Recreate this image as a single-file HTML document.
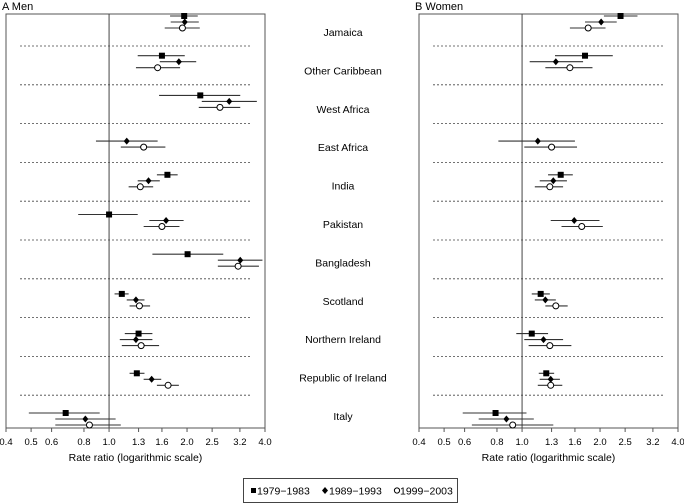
<!DOCTYPE html>
<html><head><meta charset="utf-8"><style>
body{margin:0;background:#fff;}
svg{display:block;font-family:"Liberation Sans",sans-serif;}
</style></head><body>
<svg id="chart" width="684" height="503"></svg>
<script>
const groups=["Jamaica","Other Caribbean","West Africa","East Africa","India","Pakistan","Bangladesh","Scotland","Northern Ireland","Republic of Ireland","Italy"];
const ticks=[0.4,0.5,0.6,0.8,1.0,1.3,1.6,2.0,2.5,3.2,4.0];
const tickLabels=["0.4","0.5","0.6","0.8","1.0","1.3","1.6","2.0","2.5","3.2","4.0"];
// men: [estimate, lower, upper] per group, null = missing
const men79=[[1.95,1.72,2.20],[1.60,1.29,1.96],[2.25,1.56,3.21],null,[1.68,1.53,1.84],[1.00,0.76,1.29],[2.01,1.47,2.76],[1.12,1.05,1.19],[1.30,1.15,1.47],[1.28,1.20,1.37],[0.68,0.49,0.92]];
const men89=[[1.96,1.73,2.22],[1.86,1.57,2.17],[2.91,2.28,3.72],[1.17,0.89,1.54],[1.42,1.29,1.57],[1.66,1.43,1.94],[3.21,2.63,3.91],[1.27,1.17,1.37],[1.27,1.10,1.47],[1.46,1.36,1.59],[0.81,0.62,1.06]];
const men99=[[1.92,1.64,2.24],[1.54,1.27,1.88],[2.68,2.22,3.21],[1.36,1.11,1.65],[1.32,1.19,1.48],[1.60,1.36,1.87],[3.15,2.63,3.79],[1.31,1.20,1.44],[1.33,1.12,1.56],[1.69,1.53,1.86],[0.84,0.62,1.11]];
const women79=[[2.40,2.07,2.79],[1.75,1.34,2.24],null,null,[1.41,1.26,1.57],null,null,[1.18,1.09,1.28],[1.09,0.95,1.26],[1.24,1.16,1.33],[0.79,0.59,1.04]];
const women89=[[2.02,1.75,2.32],[1.35,1.07,1.72],null,[1.15,0.81,1.60],[1.32,1.17,1.49],[1.59,1.29,1.99],null,[1.23,1.12,1.35],[1.21,1.02,1.44],[1.29,1.17,1.40],[0.87,0.68,1.11]];
const women99=[[1.80,1.53,2.10],[1.53,1.23,1.87],null,[1.30,1.02,1.63],[1.28,1.12,1.44],[1.70,1.42,2.05],null,[1.35,1.23,1.50],[1.28,1.06,1.55],[1.29,1.15,1.43],[0.92,0.64,1.32]];

const NS="http://www.w3.org/2000/svg";
const svg=document.getElementById('chart');
function mk(tag,attrs,parent){const e=document.createElementNS(NS,tag);for(const k in attrs)e.setAttribute(k,attrs[k]);(parent||svg).appendChild(e);return e;}
const lo=Math.log10(0.4),hi=Math.log10(4.0);
const plotTop=14,plotBottom=428,W=259;
function yRow(i){return 22+i*39.7;}
function panel(x0,title,s79,s89,s99,name){
  const g=mk('g',{});
  
  
  const xs=v=>x0+(Math.log10(v)-lo)/(hi-lo)*W;
  const t=mk('text',{x:x0-4,y:10,'font-size':11,fill:'#000'},g);t.textContent=title;
  
  const box=mk('rect',{x:x0,y:plotTop,width:W,height:plotBottom-plotTop,fill:'none',stroke:'#555','stroke-width':1},g);
  
  for(let i=0;i<groups.length-1;i++){
    const yy=46+i*38.8;
    const l=mk('line',{x1:x0+14,x2:x0+246,y1:yy,y2:yy,stroke:'#444','stroke-dasharray':'2,2','stroke-width':0.8},g);
    
  }
  const ref=mk('line',{x1:xs(1),x2:xs(1),y1:plotTop,y2:plotBottom,stroke:'#444','stroke-width':1},g);
  
  ticks.forEach((v,i)=>{
    const tk=mk('line',{x1:xs(v),x2:xs(v),y1:plotBottom,y2:plotBottom+4,stroke:'#555'},g);
    
    const tl=mk('text',{x:xs(v),y:plotBottom+17,'font-size':9.5,'text-anchor':'middle',fill:'#000'},g);
    tl.textContent=tickLabels[i];
    
  });
  const at=mk('text',{x:x0+W/2,y:plotBottom+33,'font-size':10.5,'text-anchor':'middle',fill:'#000'},g);
  at.textContent='Rate ratio (logarithmic scale)';
  
  const series=[[s79,-6,'sq'],[s89,0,'di'],[s99,6,'ci']];
  series.forEach(([arr,off,shape])=>{
    arr.forEach((d,i)=>{
      if(!d)return;
      const y=yRow(i)+off;
      const ci=mk('line',{x1:xs(d[1]),x2:xs(d[2]),y1:y,y2:y,stroke:'#333','stroke-width':1.1},g);
      
      const x=xs(d[0]);let m;
      if(shape==='sq')m=mk('rect',{x:x-3,y:y-3,width:6,height:6,fill:'#000'},g);
      else if(shape==='di')m=mk('polygon',{points:`${x},${y-3.5} ${x+3},${y} ${x},${y+3.5} ${x-3},${y}`,fill:'#000'},g);
      else m=mk('circle',{cx:x,cy:y,r:3,fill:'#fff',stroke:'#000','stroke-width':1},g);
      
    });
  });
}
panel(6,'A Men',men79,men89,men99,'men-panel');
panel(419,'B Women',women79,women89,women99,'women-panel');
groups.forEach((n,i)=>{
  const t=mk('text',{x:343,y:36+i*38.4,'font-size':10.5,'text-anchor':'middle',fill:'#000'});
  t.textContent=n;
  
  
});
const lg=mk('g',{});


mk('rect',{x:243.5,y:478.5,width:214,height:24,fill:'#fff',stroke:'#444'},lg);
mk('rect',{x:251,y:488,width:5,height:5,fill:'#000'},lg);
mk('polygon',{points:'325,487 328,490.5 325,494 322,490.5',fill:'#000'},lg);
mk('circle',{cx:397,cy:490.5,r:2.6,fill:'#fff',stroke:'#000'},lg);
[['1979−1983',257],['1989−1993',329],['1999−2003',400]].forEach(([s,x])=>{
  const t=mk('text',{x:x,y:494.5,'font-size':10.5,fill:'#000'},lg);
  t.textContent=s;
  
  
});
</script>
</body></html>
